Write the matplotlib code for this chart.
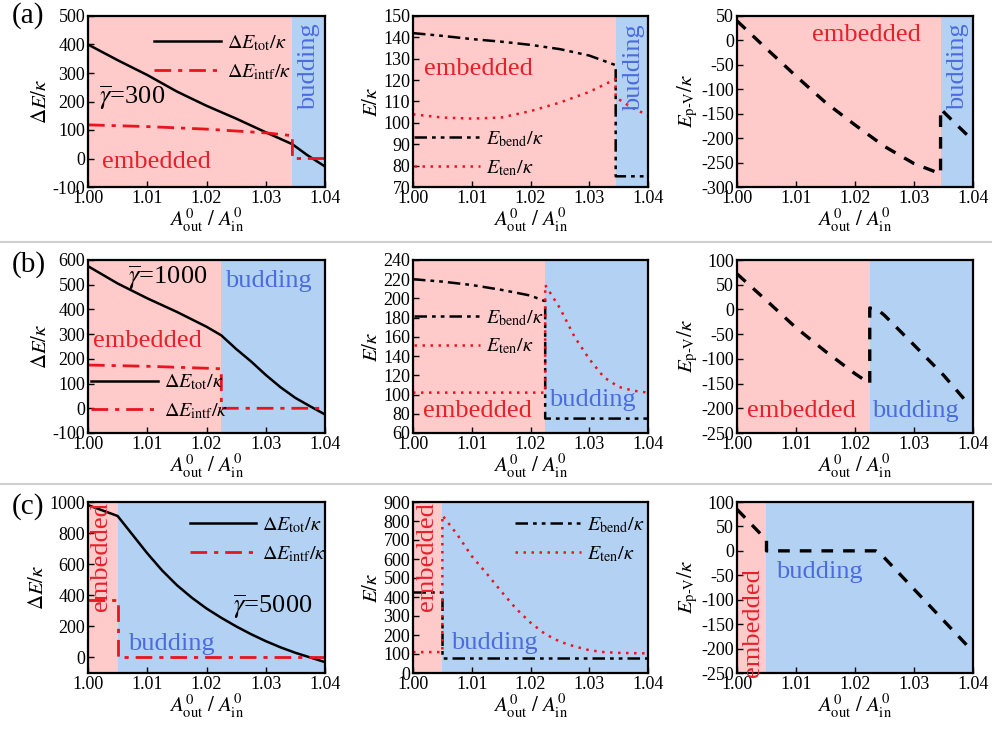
import matplotlib
matplotlib.use("Agg")
import matplotlib.pyplot as plt
from matplotlib.lines import Line2D

plt.rcParams['font.family'] = ['Liberation Serif', 'DejaVu Serif']
plt.rcParams['mathtext.fontset'] = 'stix'
plt.rcParams['axes.unicode_minus'] = False

PINK = '#FFCACA'
BLUE = '#B3D1F2'
RED_TXT = '#E5212B'
BLUE_TXT = '#4A6CE0'
RED = '#E8141E'

# titik transisi embedded -> budding
x_trans = [1.0345, 1.0225, 1.005]
gammas = ['300', '1000', '5000']

# ---------------- (a) gamma = 300 ----------------
a_tot_x = [1.000, 1.005, 1.010, 1.015, 1.020, 1.025, 1.030, 1.0345, 1.037, 1.040]
a_tot_y = [400, 345, 293, 235, 185, 140, 92, 50, 12, -28]
a_intf_x = [1.000, 1.010, 1.020, 1.030, 1.0345, 1.0345, 1.040]
a_intf_y = [118, 112, 103, 90, 80, 0, 0]
a_bend_x = [1.000, 1.005, 1.010, 1.015, 1.020, 1.025, 1.030, 1.0345, 1.0345, 1.040]
a_bend_y = [142, 140.7, 139.2, 138, 136.5, 134.5, 131.5, 127, 75, 75]
a_ten_x = [1.000, 1.005, 1.010, 1.015, 1.020, 1.025, 1.030, 1.0345, 1.0345, 1.037, 1.040]
a_ten_y = [104, 102.5, 102, 102.5, 105.5, 109.5, 114.5, 120.5, 112, 107.5, 103.5]
a_pv_x = [1.000, 1.005, 1.010, 1.015, 1.020, 1.025, 1.030, 1.0345, 1.0345, 1.037, 1.040]
a_pv_y = [40, -17, -73, -127, -173, -217, -252, -273, -140, -170, -205]

# ---------------- (b) gamma = 1000 ----------------
b_tot_x = [1.000, 1.005, 1.010, 1.015, 1.020, 1.0225, 1.025, 1.0275, 1.030, 1.0325, 1.035, 1.0375, 1.040]
b_tot_y = [575, 505, 445, 390, 330, 295, 240, 190, 135, 85, 42, 8, -25]
b_intf_x = [1.000, 1.010, 1.0225, 1.0225, 1.040]
b_intf_y = [175, 170, 160, 0, 0]
b_bend_x = [1.000, 1.005, 1.010, 1.015, 1.020, 1.0225, 1.0225, 1.040]
b_bend_y = [220, 217.5, 214, 209, 203, 197, 75, 75]
b_ten_x = [1.000, 1.0225, 1.0225, 1.025, 1.0275, 1.030, 1.0325, 1.035, 1.0375, 1.040]
b_ten_y = [102, 102, 214, 190, 160, 137, 118, 108, 104, 102]
b_pv_x = [1.000, 1.005, 1.010, 1.015, 1.020, 1.0225, 1.0225, 1.024, 1.025, 1.030, 1.035, 1.0395]
b_pv_y = [72, 18, -37, -85, -130, -150, 3, -2, -12, -72, -133, -195]

# ---------------- (c) gamma = 5000 ----------------
c_tot_x = [1.000, 1.005, 1.0075, 1.010, 1.0125, 1.015, 1.0175, 1.020, 1.0225, 1.025,
           1.0275, 1.030, 1.0325, 1.035, 1.0375, 1.040]
c_tot_y = [980, 910, 790, 670, 560, 465, 385, 315, 255, 200, 150, 105, 65, 30, 0, -30]
c_intf_x = [1.000, 1.005, 1.005, 1.040]
c_intf_y = [370, 370, 0, 0]
c_bend_x = [1.000, 1.005, 1.005, 1.040]
c_bend_y = [425, 425, 80, 80]
c_ten_x = [1.000, 1.005, 1.005, 1.0075, 1.010, 1.0125, 1.015, 1.0175, 1.020, 1.0225,
           1.025, 1.0275, 1.030, 1.0325, 1.035, 1.040]
c_ten_y = [110, 110, 830, 730, 615, 525, 430, 340, 265, 205, 165, 140, 120, 110, 106, 103]
c_pv_x = [1.000, 1.005, 1.005, 1.0235, 1.0245, 1.0395]
c_pv_y = [85, 22, 0, 0, -8, -200]

xticks = [1.00, 1.01, 1.02, 1.03, 1.04]
W, H = 992, 730
fig = plt.figure(figsize=(W / 100, H / 100), dpi=100)

cols = [(88, 325), (413, 648), (737, 973)]
rows = [(16, 187), (260, 433), (502, 673)]

xlabel = r'$A^{\rm 0}_{\rm out}\ /\ A^{\rm 0}_{\rm in}$'


def make_ax(r, c, xt, ylim, yticks, ylabel):
    l, rr = cols[c]
    t, b = rows[r]
    ax = fig.add_axes([l / W, 1 - b / H, (rr - l) / W, (b - t) / H])
    ax.axvspan(1.00, xt, color=PINK, lw=0, zorder=0)
    ax.axvspan(xt, 1.04, color=BLUE, lw=0, zorder=0)
    ax.set_xlim(1.00, 1.04)
    ax.set_ylim(*ylim)
    ax.set_xticks(xticks)
    ax.set_xticklabels([f"{v:.2f}" for v in xticks])
    ax.set_yticks(yticks)
    ax.tick_params(direction='in', labelsize=13, length=4, width=1, pad=2)
    for s in ax.spines.values():
        s.set_linewidth(1.6)
    ax.set_ylabel(ylabel, fontsize=15, labelpad=1)
    ax.set_xlabel(xlabel, fontsize=15, labelpad=0)
    return ax


def legend(ax, x0, ymid):
    ax.legend(loc='center left', bbox_to_anchor=(x0, ymid), frameon=False, fontsize=14.5,
              handlelength=3.3, handletextpad=0.3, labelspacing=0.45,
              borderpad=0, borderaxespad=0)


def emb(ax, x, y, rot=0):
    ax.text(x, y, 'embedded', color=RED_TXT, fontsize=19, ha='center', va='center', rotation=rot)


def bud(ax, x, y, rot=0):
    ax.text(x, y, 'budding', color=BLUE_TXT, fontsize=19, ha='center', va='center', rotation=rot)


lbl_tot = r'$\Delta E_{\rm tot}/\kappa$'
lbl_intf = r'$\Delta E_{\rm intf}/\kappa$'
lbl_bend = r'$E_{\rm bend}/\kappa$'
lbl_ten = r'$E_{\rm ten}/\kappa$'
lbl_pv = r'$E_{\rm p‐V}/\kappa$'

tot_kw = dict(color='black', lw=1.8)
intf_kw = dict(color=RED, lw=2.0, dashes=(6, 2.5, 1.5, 2.5))
bend_kw = dict(color='black', lw=1.8, dashes=(5, 2, 1.5, 2, 1.5, 2))
ten_kw = dict(color=RED, lw=1.8, dashes=(1, 2.2))
pv_kw = dict(color='black', lw=2.4, dashes=(3.5, 3))

# ===== row (a) =====
ax = make_ax(0, 0, x_trans[0], (-100, 500), range(-100, 501, 100), r'$\Delta E/\kappa$')
ax.plot(a_tot_x, a_tot_y, label=lbl_tot, **tot_kw)
ax.plot(a_intf_x, a_intf_y, label=lbl_intf, **intf_kw)
legend(ax, 0.28, 0.755)
emb(ax, 1.0115, -12)
bud(ax, 1.0373, 322, rot=90)
ax.text(1.0075, 215, r'$\overline{\gamma}$=' + gammas[0], fontsize=19, ha='center', va='center')

ax = make_ax(0, 1, x_trans[0], (70, 150), range(70, 151, 10), r'$E/\kappa$')
ax.plot(a_bend_x, a_bend_y, label=lbl_bend, **bend_kw)
ax.plot(a_ten_x, a_ten_y, label=lbl_ten, **ten_kw)
legend(ax, 0.003, 0.193)
emb(ax, 1.0111, 125)
bud(ax, 1.0377, 126, rot=90)

ax = make_ax(0, 2, x_trans[0], (-300, 50), range(-300, 51, 50), lbl_pv)
ax.plot(a_pv_x, a_pv_y, **pv_kw)
emb(ax, 1.0219, 11)
bud(ax, 1.0375, -53, rot=90)

# ===== row (b) =====
ax = make_ax(1, 0, x_trans[1], (-100, 600), range(-100, 601, 100), r'$\Delta E/\kappa$')
ax.plot(b_tot_x, b_tot_y, label=lbl_tot, **tot_kw)
ax.plot(b_intf_x, b_intf_y, label=lbl_intf, **intf_kw)
legend(ax, 0.014, 0.207)
emb(ax, 1.0101, 272)
bud(ax, 1.0305, 516)
ax.text(1.0135, 529, r'$\overline{\gamma}$=' + gammas[1], fontsize=19, ha='center', va='center')

ax = make_ax(1, 1, x_trans[1], (60, 240), range(60, 241, 20), r'$E/\kappa$')
ax.plot(b_bend_x, b_bend_y, label=lbl_bend, **bend_kw)
ax.plot(b_ten_x, b_ten_y, label=lbl_ten, **ten_kw)
legend(ax, 0.003, 0.581)
emb(ax, 1.0109, 83)
bud(ax, 1.0305, 94)

ax = make_ax(1, 2, x_trans[1], (-250, 100), range(-250, 101, 50), lbl_pv)
ax.plot(b_pv_x, b_pv_y, **pv_kw)
emb(ax, 1.011, -205)
bud(ax, 1.0302, -205)

# ===== row (c) =====
ax = make_ax(2, 0, x_trans[2], (-100, 1000), range(0, 1001, 200), r'$\Delta E/\kappa$')
ax.plot(c_tot_x, c_tot_y, label=lbl_tot, **tot_kw)
ax.plot(c_intf_x, c_intf_y, label=lbl_intf, **intf_kw)
legend(ax, 0.43, 0.778)
emb(ax, 1.0022, 652, rot=90)
bud(ax, 1.0141, 87)
ax.text(1.0312, 326, r'$\overline{\gamma}$=' + gammas[2], fontsize=19, ha='center', va='center')

ax = make_ax(2, 1, x_trans[2], (0, 900), range(0, 901, 100), r'$E/\kappa$')
ax.plot(c_bend_x, c_bend_y, label=lbl_bend, **bend_kw)
ax.plot(c_ten_x, c_ten_y, label=lbl_ten, **ten_kw)
legend(ax, 0.433, 0.78)
emb(ax, 1.0024, 614, rot=90)
bud(ax, 1.0139, 158)

ax = make_ax(2, 2, x_trans[2], (-250, 100), range(-250, 101, 50), lbl_pv)
ax.plot(c_pv_x, c_pv_y, **pv_kw)
emb(ax, 1.0027, -147, rot=90)
bud(ax, 1.014, -44)

# label panel + garis pemisah
for lab, yp in zip(['(a)', '(b)', '(c)'], [16, 265, 507]):
    fig.text(12 / W, 1 - yp / H, lab, fontsize=21, ha='left', va='center')
for yp in [242, 484]:
    fig.add_artist(Line2D([0, 1], [1 - yp / H, 1 - yp / H], transform=fig.transFigure,
                          color='#CFCFCF', lw=1.5))

fig.savefig('out.png', dpi=100)
